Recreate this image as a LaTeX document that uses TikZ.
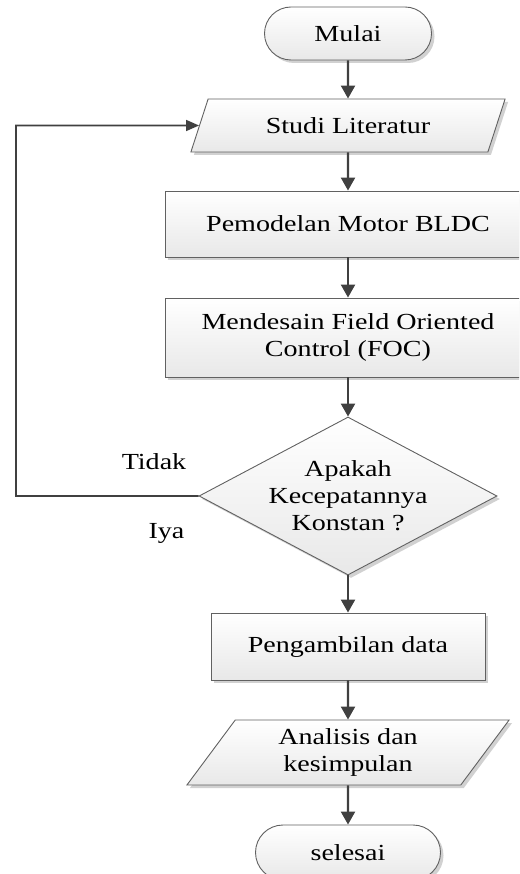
\documentclass[tikz,border=0pt]{standalone}
\usepackage{fontspec}
\setmainfont{Liberation Serif}[FakeStretch=1.22]
\usetikzlibrary{shapes.geometric,shapes.misc,shadows,arrows.meta}
\begin{document}
\begin{tikzpicture}[x=1pt,y=-1pt,
  font=\fontsize{23}{27}\selectfont,
  box/.style={draw=black!62, line width=0.9pt, top color=white, bottom color=black!9,
    drop shadow={shadow xshift=3pt,shadow yshift=-3pt,fill=black!18,opacity=1},
    inner sep=0pt, align=center},
  term/.style={box, rounded rectangle},
  proc/.style={box, rectangle},
  io/.style={box, trapezium, trapezium left angle=58, trapezium right angle=122, trapezium stretches=true},
  dec/.style={box, diamond, aspect=1.886},
  flow/.style={draw=black!75, line width=2.3pt, -{Triangle[length=13pt,width=14pt]}},
  back/.style={draw=black!75, line width=1.6pt, -{Triangle[length=13pt,width=11pt]}},
  lbl/.style={inner sep=0pt}
]
\useasboundingbox (0,0) rectangle (519,874);
\clip (0,0) rectangle (519,874);

\node[term, minimum width=167pt, minimum height=53pt] (start) at (348,33.5) {Mulai};
\node[io, minimum width=315pt, minimum height=53pt] (studi) at (348,125.5) {Studi Literatur};
\node[proc, minimum width=366pt, minimum height=66pt] (model) at (348,224) {Pemodelan Motor BLDC};
\node[proc, minimum width=366pt, minimum height=79pt] (foc) at (348,337.5) {Mendesain Field Oriented\\Control (FOC)};
\node[dec, minimum width=298pt, minimum height=158pt] (cek) at (348,496) {Apakah\\Kecepatannya\\Konstan ?};
\node[proc, minimum width=274pt, minimum height=67pt] (data) at (348,646.5) {Pengambilan data};
\node[io, minimum width=323pt, minimum height=65pt] (anal) at (348,752.5) {Analisis dan\\kesimpulan};
\node[term, minimum width=185pt, minimum height=55pt] (end) at (348,852.5) {selesai};

\node[lbl] (tidak) at (154,462) {Tidak};
\node[lbl] (iya) at (166.5,533) {Iya};

\draw[flow] (start.south) -- (studi.north);
\draw[flow] (studi.south) -- (model.north);
\draw[flow] (model.south) -- (foc.north);
\draw[flow] (foc.south) -- (cek.north);
\draw[flow] (cek.south) -- (data.north);
\draw[flow] (data.south) -- (anal.north);
\draw[flow] (anal.south) -- (end.north);

\coordinate (lp) at (16,125.5);
\draw[back] (cek.west) -| (lp) -- (studi);
\end{tikzpicture}
\end{document}
